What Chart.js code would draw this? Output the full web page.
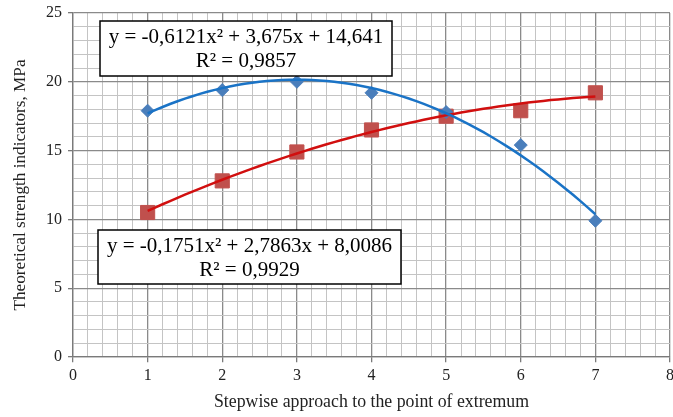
<!DOCTYPE html>
<html>
<head>
<meta charset="utf-8">
<script src="https://cdn.jsdelivr.net/npm/chart.js@4/dist/chart.umd.min.js"></script>
<style>
html, body { margin: 0; padding: 0; background: #fff; overflow: hidden; }
</style>
</head>
<body>
<canvas id="chart" width="681" height="417"></canvas>
<script>
// Data
const steps = [1, 2, 3, 4, 5, 6, 7];
const blueValues = [17.9, 19.4, 20.0, 19.2, 17.8, 15.4, 9.9];
const redValues = [10.5, 12.8, 14.9, 16.5, 17.5, 17.9, 19.2];
// trendline coefficients as printed on the chart (a, b, c of ax^2 + bx + c)
const blueFit = [-0.6121, 3.675, 14.641];
const redFit = [-0.1751, 2.7863, 8.0086];
const blueLabel = ['y = -0,6121x² + 3,675x + 14,641', 'R² = 0,9857'];
const redLabel = ['y = -0,1751x² + 2,7863x + 8,0086', 'R² = 0,9929'];
const xTitle = 'Stepwise approach to the point of extremum';
const yTitle = 'Theoretical strength indicators, MPa';

const FONT = '"Liberation Serif", "Times New Roman", serif';

function trend(coef) {
    const pts = [];
    for (let i = 0; i <= 60; i++) {
        const x = 1 + i * 0.1;
        pts.push({ x: x, y: coef[0] * x * x + coef[1] * x + coef[2] });
    }
    return pts;
}

const isWhole = v => Math.abs(v - Math.round(v)) < 1e-6;

// equation boxes
const labelBoxes = {
    id: 'labelBoxes',
    afterDraw(chart) {
        const ctx = chart.ctx;
        const boxes = [
            { x: 100, y: 21, w: 292, h: 55, lines: blueLabel },
            { x: 98, y: 230, w: 303, h: 54, lines: redLabel }
        ];
        ctx.save();
        boxes.forEach(b => {
            ctx.fillStyle = '#fff';
            ctx.fillRect(b.x, b.y, b.w, b.h);
            ctx.strokeStyle = '#000';
            ctx.lineWidth = 1.5;
            ctx.strokeRect(b.x, b.y, b.w, b.h);
            ctx.fillStyle = '#000';
            ctx.font = '21px ' + FONT;
            ctx.textAlign = 'center';
            ctx.textBaseline = 'middle';
            ctx.fillText(b.lines[0], b.x + b.w / 2, b.y + 16);
            ctx.fillText(b.lines[1], b.x + b.w / 2, b.y + 40);
        });
        ctx.restore();
    }
};

const ctx = document.getElementById('chart').getContext('2d');

new Chart(ctx, {
    type: 'scatter',
    data: {
        datasets: [
            {
                data: trend(blueFit),
                type: 'line',
                borderColor: '#1a73c6',
                borderWidth: 2.5,
                pointRadius: 0,
                fill: false,
                order: 0
            },
            {
                data: trend(redFit),
                type: 'line',
                borderColor: '#d10f0f',
                borderWidth: 2.5,
                pointRadius: 0,
                fill: false,
                order: 0
            },
            {
                data: steps.map((s, i) => ({ x: s, y: blueValues[i] })),
                pointStyle: 'rectRot',
                pointRadius: 6.5,
                backgroundColor: '#4a7ebb',
                borderColor: '#4a7ebb',
                order: 1
            },
            {
                data: steps.map((s, i) => ({ x: s, y: redValues[i] })),
                pointStyle: 'rect',
                pointRadius: 10,
                backgroundColor: '#c0504d',
                borderColor: '#c0504d',
                order: 1
            }
        ]
    },
    options: {
        responsive: false,
        animation: false,
        layout: { padding: { top: 13, right: 0, left: 0, bottom: 0 } },
        plugins: { legend: { display: false }, tooltip: { enabled: false } },
        scales: {
            x: {
                type: 'linear',
                min: 0,
                max: 8,
                afterFit: s => { s.height = 60; },
                ticks: {
                    stepSize: 0.2,
                    autoSkip: false,
                    maxRotation: 0,
                    padding: 0,
                    color: '#222',
                    font: { family: FONT, size: 16 },
                    callback: v => isWhole(v) ? String(Math.round(v)) : ''
                },
                grid: {
                    color: c => isWhole(c.tick.value) ? '#8a8a8a' : '#c4c4c4',
                    lineWidth: c => isWhole(c.tick.value) ? 1.3 : 1,
                    tickLength: 9,
                    tickBorderDash: [5, 40],
                    tickColor: c => isWhole(c.tick.value) ? '#7a7a7a' : 'rgba(0,0,0,0)'
                },
                border: { color: '#7a7a7a', width: 1.3 },
                title: {
                    display: true,
                    text: xTitle,
                    color: '#222',
                    font: { family: FONT, size: 17.8 },
                    padding: { top: 3 }
                }
            },
            y: {
                min: 0,
                max: 25,
                afterFit: s => { s.width = 73; s.paddingTop = 0; s.paddingBottom = 0; },
                ticks: {
                    stepSize: 1,
                    autoSkip: false,
                    padding: 6,
                    color: '#222',
                    font: { family: FONT, size: 16 },
                    callback: v => v % 5 === 0 ? String(v) : ''
                },
                grid: {
                    color: c => c.tick.value % 5 === 0 ? '#8a8a8a' : '#c4c4c4',
                    lineWidth: c => c.tick.value % 5 === 0 ? 1.3 : 1,
                    tickLength: 5,
                    tickColor: c => c.tick.value % 5 === 0 ? '#7a7a7a' : 'rgba(0,0,0,0)'
                },
                border: { color: '#7a7a7a', width: 1.3 },
                title: {
                    display: true,
                    text: yTitle,
                    color: '#222',
                    font: { family: FONT, size: 17.2 },
                    padding: { top: 10, bottom: 2 }
                }
            }
        }
    },
    plugins: [labelBoxes]
});
</script>
</body>
</html>
